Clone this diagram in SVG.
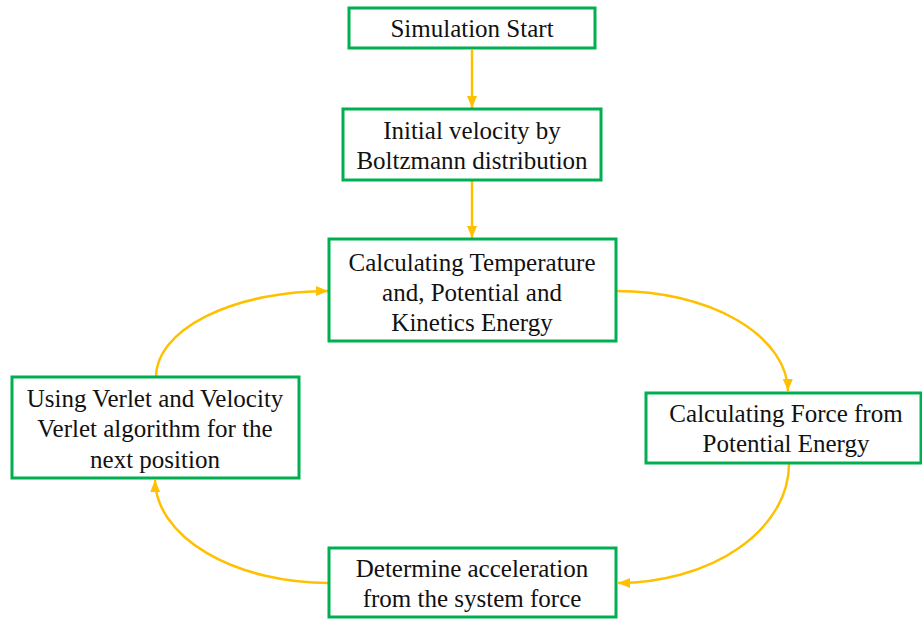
<svg xmlns="http://www.w3.org/2000/svg" width="922" height="619" viewBox="0 0 922 619">
<defs>
<style>
.box{fill:#fff;stroke:#00B050;stroke-width:3}
.lbl{font-family:"Liberation Serif","Times New Roman",serif;font-size:25px;fill:#111;text-anchor:middle}
.arr{fill:none;stroke:#FFC000;stroke-width:2.5;marker-end:url(#ah)}
</style>
<marker id="ah" markerUnits="userSpaceOnUse" markerWidth="13" markerHeight="13" viewBox="0 0 13 13" refX="12" refY="6.5" orient="auto">
<path d="M0,1.5 L12,6.5 L0,11.5 Z" fill="#FFC000"/>
</marker>
</defs>
<rect width="922" height="619" fill="#fff"/>
<g id="connectors">
<path class="arr" d="M472,50 L472,108"/>
<path class="arr" d="M472,181 L472,238"/>
<path class="arr" d="M617,291 A171,101 0 0 1 788,391"/>
<path class="arr" d="M789,464 A172,119 0 0 1 618,583"/>
<path class="arr" d="M329,583 A174,104 0 0 1 155,480"/>
<path class="arr" d="M156,377 A172,86 0 0 1 328,291"/>
</g>
<g id="start">
<rect class="box" x="349" y="8" width="246" height="40"/>
<text class="lbl" x="472" y="37">Simulation Start</text>
</g>
<g id="init">
<rect class="box" x="343" y="109" width="258" height="71"/>
<text class="lbl" x="472" y="139">Initial velocity by</text>
<text class="lbl" x="472" y="169">Boltzmann distribution</text>
</g>
<g id="calc">
<rect class="box" x="329" y="239" width="287" height="102"/>
<text class="lbl" x="472" y="271">Calculating Temperature</text>
<text class="lbl" x="472" y="301">and, Potential and</text>
<text class="lbl" x="472" y="331">Kinetics Energy</text>
</g>
<g id="force">
<rect class="box" x="646" y="393" width="275" height="70"/>
<text class="lbl" x="786" y="422">Calculating Force from</text>
<text class="lbl" x="786" y="452">Potential Energy</text>
</g>
<g id="accel">
<rect class="box" x="329" y="548" width="287" height="69"/>
<text class="lbl" x="472" y="577">Determine acceleration</text>
<text class="lbl" x="472" y="607">from the system force</text>
</g>
<g id="verlet">
<rect class="box" x="12" y="377" width="287" height="101"/>
<text class="lbl" x="155" y="407">Using Verlet and Velocity</text>
<text class="lbl" x="155" y="437">Verlet algorithm for the</text>
<text class="lbl" x="155" y="468">next position</text>
</g>
</svg>
